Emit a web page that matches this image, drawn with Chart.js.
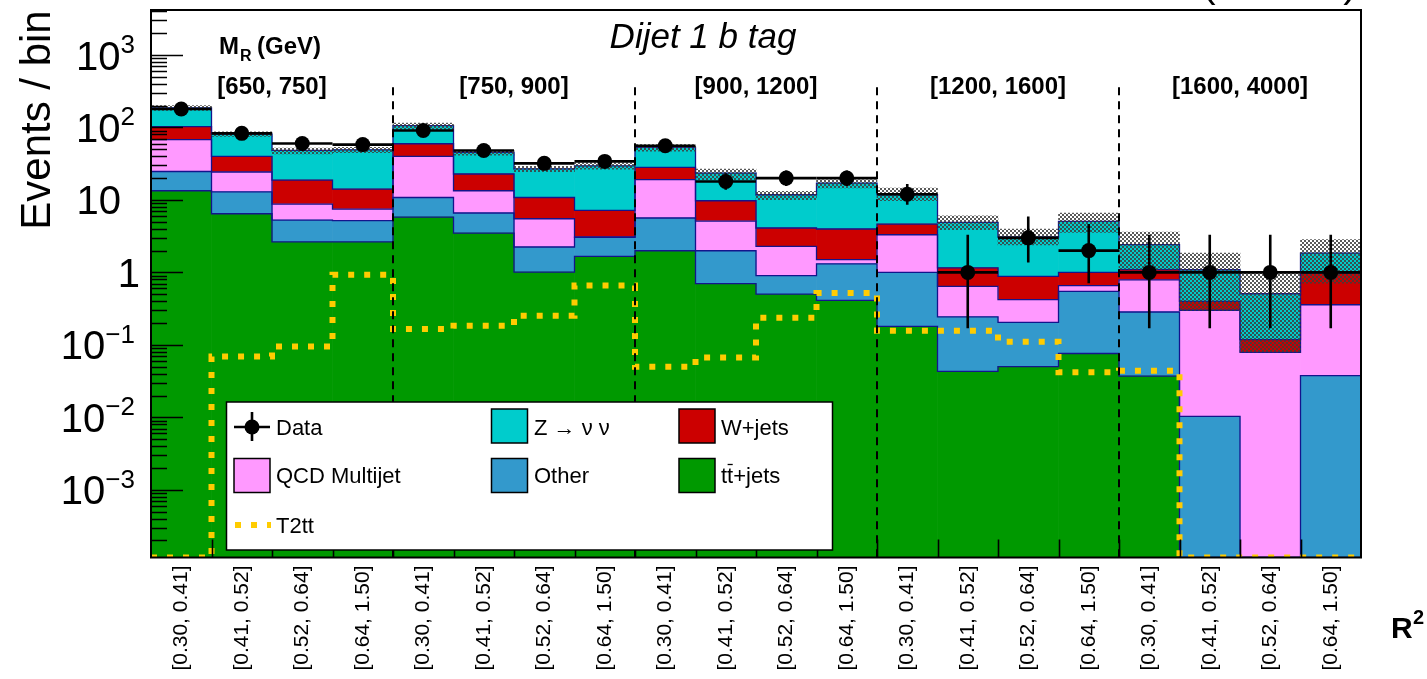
<!DOCTYPE html>
<html><head><meta charset="utf-8">
<script src="https://cdn.jsdelivr.net/npm/chart.js@4/dist/chart.umd.min.js"></script>
<style>html,body{margin:0;padding:0;background:#fff;}#wrap{width:1427px;height:679px;}</style>
</head><body><div id="wrap"><canvas id="c" width="1427" height="679"></canvas></div>
<script>
// ---------------- data ----------------
const binLabels = ['[0.30, 0.41]','[0.41, 0.52]','[0.52, 0.64]','[0.64, 1.50]',
                   '[0.30, 0.41]','[0.41, 0.52]','[0.52, 0.64]','[0.64, 1.50]',
                   '[0.30, 0.41]','[0.41, 0.52]','[0.52, 0.64]','[0.64, 1.50]',
                   '[0.30, 0.41]','[0.41, 0.52]','[0.52, 0.64]','[0.64, 1.50]',
                   '[0.30, 0.41]','[0.41, 0.52]','[0.52, 0.64]','[0.64, 1.50]'];
const mrRanges = ['[650, 750]','[750, 900]','[900, 1200]','[1200, 1600]','[1600, 4000]'];
const ttbar = [13.4, 6.45, 2.63, 2.63, 5.81, 3.49, 1.01, 1.66, 1.99, 0.70, 0.50, 0.41, 0.18, 0.043, 0.050, 0.076, 0.037, 0, 0, 0];
const other = [11.3, 6.45, 2.65, 2.54, 5.0, 3.11, 1.23, 1.39, 3.64, 1.29, 0.40, 0.90, 0.82, 0.20, 0.154, 0.471, 0.247, 0.0103, 0, 0.0376];
const qcd   = [43.3, 11.4, 3.5, 2.32, 29, 6.8, 3.26, 0.03, 13.4, 3.1, 1.38, 0.19, 2.31, 0.40, 0.216, 0.109, 0.506, 0.29, 0.0788, 0.32];
const wjets = [35, 15.7, 10.0, 6.6, 19.8, 9.4, 5.3, 4.08, 9.1, 4.65, 1.82, 2.47, 1.34, 0.51, 0.46, 0.344, 0.30, 0.098, 0.039, 0.62];
const znunu = [83, 41, 29.5, 35.1, 46.4, 22.4, 16.1, 22.4, 24.9, 13.75, 7.7, 13.1, 7.15, 3.75, 2.2, 4.05, 1.32, 0.69, 0.39, 0.87];
const dataCounts  = [180, 83, 60, 58, 91, 48, 32, 34, 56, 18, 20, 20, 12, 1, 3, 2, 1, 1, 1, 1];
const dataErrLow  = [166.6, 73.9, 52.3, 50.4, 81.5, 41.1, 26.4, 28.2, 48.5, 13.8, 15.6, 15.6, 8.6, 0.17, 1.37, 0.71, 0.17, 0.17, 0.17, 0.17];
const dataErrHigh = [194.4, 93.1, 68.8, 66.7, 101.6, 56.0, 38.7, 40.9, 64.5, 23.3, 25.5, 25.5, 16.6, 3.3, 5.92, 4.64, 3.3, 3.3, 3.3, 3.3];
const bandLow  = [172, 75, 43, 45, 95, 41.5, 24.5, 26.5, 47, 19, 10.1, 14.6, 9.8, 3.9, 2.4, 3.56, 1.1, 0.30, 0.079, 0.71];
const bandHigh = [200, 87, 52, 53, 115, 48.5, 29, 32.5, 58, 26.7, 13.1, 19, 14.6, 6.05, 3.97, 6.6, 3.6, 1.85, 0.98, 2.83];
const t2tt = [0, 0.069, 0.095, 0.93, 0.166, 0.184, 0.253, 0.66, 0.050, 0.067, 0.237, 0.52, 0.157, 0.157, 0.110, 0.042, 0.044, 0, 0, 0];
const yTickExponents = [-3, -2, -1, 0, 1, 2, 3];
const yMin = 1.164e-4, yMax = 4178;
const dividerTop = 360;

// ---------------- styles ----------------
const FONT = "'Liberation Sans', Arial, Helvetica, sans-serif";
const COL = {tt:'#009900', other:'#3399cc', qcd:'#ff99ff', w:'#cc0000', z:'#00cccc', t2tt:'#ffcc00', outline:'#14148c'};

const canvas = document.getElementById('c');
const mainCtx = canvas.getContext('2d');
function makeHatch(){
  const p = document.createElement('canvas'); p.width = 4; p.height = 4;
  const g = p.getContext('2d');
  g.fillStyle = 'rgba(60,60,60,0.85)';
  g.fillRect(0,0,2,2); g.fillRect(2,2,2,2);
  return mainCtx.createPattern(p, 'repeat');
}
const hatch = makeHatch();

const stackSeries = [
  {key:'tt', vals:ttbar, color:COL.tt},
  {key:'other', vals:other, color:COL.other},
  {key:'qcd', vals:qcd, color:COL.qcd},
  {key:'w', vals:wjets, color:COL.w},
  {key:'z', vals:znunu, color:COL.z}
];

// T2tt histogram as step points on a linear helper axis (0 shown at axis floor)
const t2ttSteps = [];
t2tt.forEach((v, i) => {
  const y = v > 0 ? v : yMin;
  t2ttSteps.push({x: i - 0.5, y}); t2ttSteps.push({x: i + 0.5, y});
});

const datasets = [
  {type:'line', label:'Data', data: dataCounts, xAxisID:'x', yAxisID:'y', stack:'data', showLine:false,
   pointRadius:7.5, pointBackgroundColor:'#000', pointBorderWidth:0, order:0},
  {type:'line', label:'T2tt', data: t2ttSteps, xAxisID:'xs', yAxisID:'y', stack:'sig', borderColor:COL.t2tt,
   borderWidth:6, borderDash:[6,10], borderCapStyle:'butt', pointRadius:0, fill:false, tension:0, order:1},
  {type:'bar', label:'band', data: bandLow.map((l,i)=>[l, bandHigh[i]]), xAxisID:'x', yAxisID:'y', stack:'band', grouped:false,
   backgroundColor: hatch, borderWidth:0, barPercentage:1, categoryPercentage:1, order:2}
];
stackSeries.forEach((s, k) => {
  datasets.push({type:'bar', label:s.key, data:s.vals, xAxisID:'x', yAxisID:'y', stack:'bg', grouped:false,
    backgroundColor:s.color, borderWidth:0, barPercentage:1, categoryPercentage:1, order:3 + k});
});
const ttDatasetIndex = 3;

function binHalf(xs){ return (xs.right - xs.left) / binLabels.length / 2; }

function drawOutlines(chart){
  const ctx = chart.ctx, xs = chart.scales.x, ys = chart.scales.y;
  const h = binHalf(xs);
  const cum = new Array(binLabels.length).fill(0);
  ctx.save();
  ctx.beginPath();
  ctx.rect(chart.chartArea.left, chart.chartArea.top, chart.chartArea.right - chart.chartArea.left, chart.chartArea.bottom - chart.chartArea.top);
  ctx.clip();
  ctx.strokeStyle = COL.outline; ctx.lineWidth = 1.3;
  stackSeries.forEach(s => {
    ctx.beginPath();
    for (let i = 0; i < binLabels.length; i++){
      cum[i] += s.vals[i];
      const cx = xs.getPixelForValue(i);
      const y = ys.getPixelForValue(cum[i] > 0 ? cum[i] : yMin);
      if (i === 0) ctx.moveTo(cx - h, y); else ctx.lineTo(cx - h, y);
      ctx.lineTo(cx + h, y);
    }
    ctx.stroke();
  });
  ctx.restore();
}

function drawErrorBars(chart){
  const ctx = chart.ctx, xs = chart.scales.x, ys = chart.scales.y;
  const h = binHalf(xs);
  ctx.save();
  ctx.strokeStyle = '#000'; ctx.lineWidth = 2.6;
  for (let i = 0; i < dataCounts.length; i++){
    const cx = xs.getPixelForValue(i);
    const y = ys.getPixelForValue(dataCounts[i]);
    ctx.beginPath();
    ctx.moveTo(cx - h, y); ctx.lineTo(cx + h, y);
    ctx.moveTo(cx, ys.getPixelForValue(dataErrLow[i])); ctx.lineTo(cx, ys.getPixelForValue(dataErrHigh[i]));
    ctx.stroke();
  }
  ctx.restore();
}

function drawDividers(chart){
  const ctx = chart.ctx, xs = chart.scales.x, ys = chart.scales.y;
  const h = binHalf(xs);
  ctx.save();
  ctx.strokeStyle = '#000'; ctx.lineWidth = 2; ctx.setLineDash([8,6]);
  for (let g = 1; g < mrRanges.length; g++){
    const x = Math.round(xs.getPixelForValue(g*4) - h) ;
    ctx.beginPath();
    ctx.moveTo(x, ys.getPixelForValue(dividerTop));
    ctx.lineTo(x, chart.chartArea.bottom);
    ctx.stroke();
  }
  ctx.restore();
}

function drawAxesFrame(chart){
  const ctx = chart.ctx, xs = chart.scales.x, ys = chart.scales.y, a = chart.chartArea;
  const h = binHalf(xs);
  ctx.save();
  ctx.strokeStyle = '#000'; ctx.lineWidth = 1.6;
  ctx.beginPath();
  for (let e = -4; e <= 3; e++){
    for (let m = 1; m <= 9; m++){
      const v = m * Math.pow(10, e);
      if (v < yMin || v > yMax) continue;
      const y = Math.round(ys.getPixelForValue(v)) + 0.5;
      const len = m === 1 ? 32 : 16;
      ctx.moveTo(a.left, y); ctx.lineTo(a.left + len, y);
    }
  }
  for (let i = 1; i < binLabels.length; i++){
    const x = Math.round(xs.getPixelForValue(i) - h) + 0.5;
    ctx.moveTo(x, a.bottom); ctx.lineTo(x, a.bottom - 18);
  }
  ctx.stroke();
  ctx.lineWidth = 2;
  ctx.strokeRect(a.left, a.top, a.right - a.left, a.bottom - a.top);
  ctx.restore();
}

function drawYLabels(chart){
  const ctx = chart.ctx, ys = chart.scales.y;
  ctx.save();
  ctx.fillStyle = '#000'; ctx.textBaseline = 'alphabetic';
  const right = 135;
  yTickExponents.forEach(e => {
    const y = ys.getPixelForValue(Math.pow(10, e));
    ctx.font = '40px ' + FONT;
    if (e === 0){ ctx.textAlign = 'right'; ctx.fillText('1', 140, y + 14.5); return; }
    if (e === 1){ ctx.textAlign = 'right'; ctx.fillText('10', 121, y + 14.5); return; }
    const sup = (e < 0 ? '\u2212' : '') + Math.abs(e);
    ctx.font = '26px ' + FONT;
    const sw = ctx.measureText(sup).width;
    ctx.textAlign = 'left';
    ctx.fillText(sup, right - sw, y - 2);
    ctx.font = '40px ' + FONT;
    ctx.textAlign = 'right';
    ctx.fillText('10', right - sw, y + 14.5);
  });
  ctx.save();
  ctx.translate(50, 120); ctx.rotate(-Math.PI/2);
  ctx.font = '42px ' + FONT; ctx.textAlign = 'center';
  ctx.fillText('Events / bin', 0, 0);
  ctx.restore();
  ctx.font = 'bold 30px ' + FONT; ctx.textAlign = 'left';
  ctx.fillText('R', 1391, 638);
  ctx.font = 'bold 20px ' + FONT;
  ctx.fillText('2', 1413, 624);
  ctx.restore();
}

function drawTexts(chart){
  const ctx = chart.ctx, xs = chart.scales.x;
  const h = binHalf(xs);
  ctx.save();
  ctx.fillStyle = '#000';
  ctx.font = 'italic 35px ' + FONT; ctx.textAlign = 'center';
  ctx.fillText('Dijet 1 b tag', 703, 48);
  ctx.font = 'bold 24px ' + FONT;
  mrRanges.forEach((t, g) => {
    const x = (xs.getPixelForValue(g*4) - h + xs.getPixelForValue(g*4 + 3) + h) / 2;
    ctx.fillText(t, x, 94);
  });
  ctx.textAlign = 'left';
  ctx.font = 'bold 24px ' + FONT;
  ctx.fillText('M', 219, 54);
  let mw = ctx.measureText('M').width;
  ctx.font = 'bold 16px ' + FONT;
  ctx.fillText('R', 219 + mw + 1, 61);
  ctx.font = 'bold 24px ' + FONT;
  ctx.fillText('(GeV)', 257, 54);
  ctx.font = '41px ' + FONT;
  ctx.fillText('(13 TeV)', 1202, -3);
  ctx.restore();
}

function drawLegend(chart){
  const ctx = chart.ctx;
  ctx.save();
  ctx.fillStyle = '#fff'; ctx.fillRect(226.5, 402, 606, 148);
  ctx.strokeStyle = '#000'; ctx.lineWidth = 1.5; ctx.strokeRect(226.5, 402, 606, 148);
  ctx.font = '22px ' + FONT; ctx.fillStyle = '#000'; ctx.textAlign = 'left'; ctx.textBaseline = 'alphabetic';
  ctx.lineWidth = 2.6; ctx.beginPath();
  ctx.moveTo(234, 427); ctx.lineTo(270, 427); ctx.moveTo(252, 412); ctx.lineTo(252, 441); ctx.stroke();
  ctx.beginPath(); ctx.arc(252, 427, 7.5, 0, Math.PI*2); ctx.fill();
  ctx.fillText('Data', 276, 435);
  const sw = (x, y, c) => { ctx.fillStyle = c; ctx.fillRect(x, y, 36, 34); ctx.lineWidth = 1.5; ctx.strokeStyle = '#000'; ctx.strokeRect(x, y, 36, 34); ctx.fillStyle = '#000'; };
  sw(491.5, 409, COL.z);   ctx.fillText('Z \u2192 \u03bd \u03bd', 534, 435);
  sw(679, 409, COL.w);     ctx.fillText('W+jets', 721, 435);
  sw(234, 458.5, COL.qcd); ctx.fillText('QCD Multijet', 276, 483);
  sw(491.5, 458.5, COL.other); ctx.fillText('Other', 534, 483);
  sw(679, 458.5, COL.tt);  ctx.fillText('tt+jets', 721, 483);
  const tW = ctx.measureText('t').width;
  ctx.lineWidth = 1.3; ctx.beginPath(); ctx.moveTo(721 + tW + 0.5, 464.5); ctx.lineTo(721 + 2*tW - 0.5, 464.5); ctx.stroke();
  ctx.strokeStyle = COL.t2tt; ctx.lineWidth = 6; ctx.setLineDash([6,10]);
  ctx.beginPath(); ctx.moveTo(235, 525); ctx.lineTo(271, 525); ctx.stroke();
  ctx.setLineDash([]);
  ctx.fillText('T2tt', 276, 533);
  ctx.restore();
}

const rootPlugin = {
  id: 'rootStyle',
  afterDatasetDraw(chart, args){
    if (args.index === ttDatasetIndex) drawOutlines(chart);
  },
  afterDatasetsDraw(chart){
    drawErrorBars(chart);
    drawDividers(chart);
    drawAxesFrame(chart);
    drawLegend(chart);
  },
  afterDraw(chart){
    drawYLabels(chart);
    drawTexts(chart);
  }
};

new Chart(canvas, {
  data: { labels: binLabels, datasets },
  options: {
    responsive:false, animation:false, devicePixelRatio:1,
    layout:{padding:{top:10, right:66, left:0, bottom:0}},
    plugins:{legend:{display:false}, tooltip:{enabled:false}},
    scales:{
      x:{type:'category', offset:true, stacked:true, grid:{display:false}, border:{display:false},
         ticks:{autoSkip:false, maxRotation:90, minRotation:90, padding:0, color:'#000', font:{family:FONT, size:21}},
         afterFit(s){ s.height = 121.5; }},
      xs:{type:'linear', min:-0.5, max:19.5, display:false},
      y:{type:'logarithmic', min:yMin, max:yMax, bounds:'data', stacked:true, grid:{display:false}, border:{display:false},
         ticks:{display:false}, afterFit(s){ s.width = 151; }}
    }
  },
  plugins:[rootPlugin]
});
</script></body></html>
